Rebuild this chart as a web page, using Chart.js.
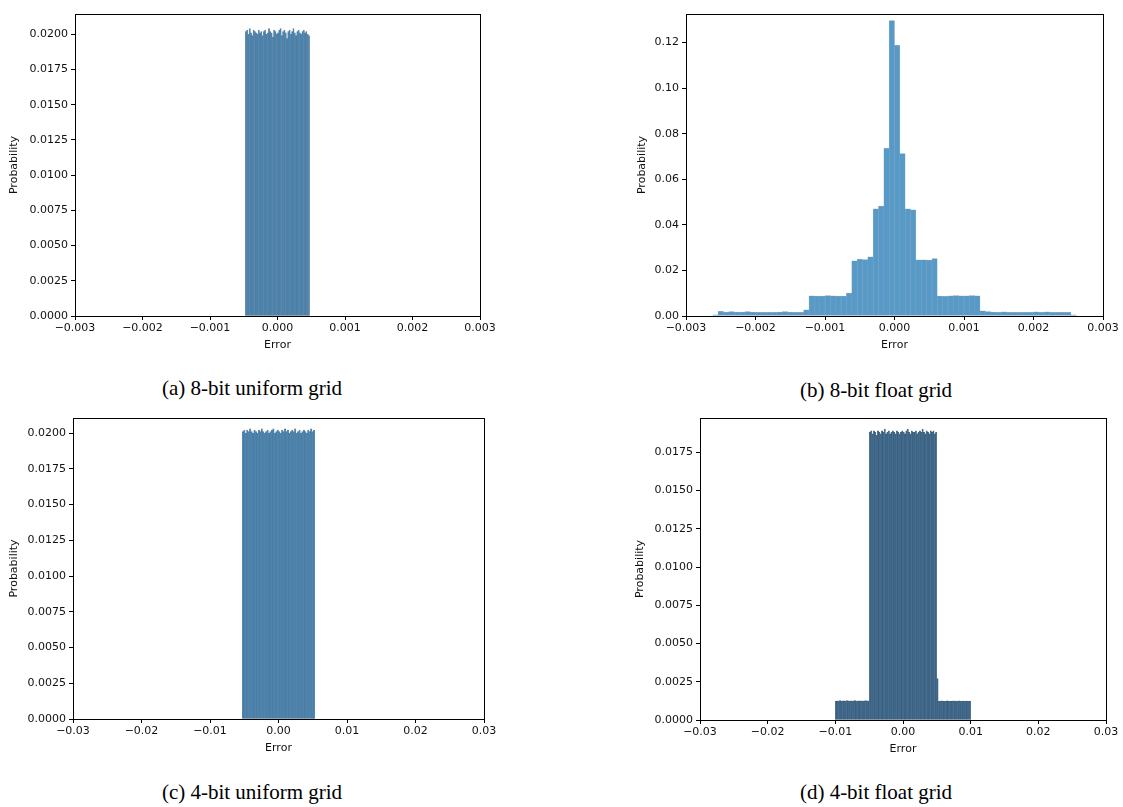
<!DOCTYPE html>
<html>
<head>
<meta charset="utf-8">
<script src="https://cdn.jsdelivr.net/npm/chart.js@4.4.0/dist/chart.umd.min.js"></script>
<style>
body { margin:0; background:#fff; width:1123px; height:807px; position:relative; overflow:hidden; }
.box { position:absolute; }
.cap { position:absolute; width:400px; text-align:center; font-family:'Liberation Serif','Times New Roman',serif; font-size:21px; line-height:24px; color:#000; }
</style>
</head>
<body>
<div class="box" style="left:0;top:4px;width:505px;height:352px"><canvas id="chartA"></canvas></div>
<div class="box" style="left:628px;top:4px;width:495px;height:352px"><canvas id="chartB"></canvas></div>
<div class="box" style="left:0;top:408px;width:508px;height:351px"><canvas id="chartC"></canvas></div>
<div class="box" style="left:626px;top:408px;width:497px;height:352px"><canvas id="chartD"></canvas></div>
<div class="cap" style="left:52px;top:376px">(a) 8-bit uniform grid</div>
<div class="cap" style="left:676px;top:378px">(b) 8-bit float grid</div>
<div class="cap" style="left:52px;top:780px">(c) 4-bit uniform grid</div>
<div class="cap" style="left:676px;top:780px">(d) 4-bit float grid</div>
<script>
// tick values
const xTicksSmall = [-0.003, -0.002, -0.001, 0, 0.001, 0.002, 0.003];
const xTicksLarge = [-0.03, -0.02, -0.01, 0, 0.01, 0.02, 0.03];
const yTicksUniform = [0, 0.0025, 0.005, 0.0075, 0.01, 0.0125, 0.015, 0.0175, 0.02];
const yTicksFloat8 = [0, 0.02, 0.04, 0.06, 0.08, 0.10, 0.12];
const yTicksFloat4 = [0, 0.0025, 0.005, 0.0075, 0.01, 0.0125, 0.015, 0.0175];

// (a) 8-bit uniform grid: 50 bins
const edgeA = -0.000478, widthA = 0.000953 / 50;
const probA = [0.0202,0.0203,0.0200,0.0204,0.0201,0.0199,0.0203,0.0202,0.0201,0.0200,
               0.0203,0.0201,0.0202,0.0199,0.0202,0.0203,0.0200,0.0201,0.0204,0.0202,
               0.0201,0.0198,0.0203,0.0202,0.0200,0.0201,0.0203,0.0204,0.0199,0.0202,
               0.0203,0.0201,0.0197,0.0202,0.0203,0.0200,0.0202,0.0204,0.0201,0.0199,
               0.0202,0.0203,0.0201,0.0200,0.0202,0.0203,0.0201,0.0202,0.0200,0.0199];

// (b) 8-bit float grid: 68 bins
const widthB = 0.001 / 13, edgeB = -34 * widthB;
const probB = [0.0005,0.0020,0.0017,0.0019,0.0017,0.0017,0.0019,0.0017,0.0016,0.0016,
               0.0016,0.0016,0.0017,0.0019,0.0017,0.0016,0.0016,0.0027,0.0089,0.0087,
               0.0087,0.0090,0.0088,0.0087,0.0087,0.0101,0.0242,0.0250,0.0247,0.0260,
               0.0470,0.0482,0.0736,0.1296,0.1187,0.0713,0.0470,0.0466,0.0246,0.0246,
               0.0245,0.0252,0.0087,0.0086,0.0089,0.0090,0.0089,0.0088,0.0090,0.0088,
               0.0023,0.0019,0.0017,0.0016,0.0018,0.0016,0.0016,0.0016,0.0016,0.0016,
               0.0018,0.0016,0.0018,0.0016,0.0016,0.0016,0.0016,0.0005];

// (c) 4-bit uniform grid: 50 bins
const edgeC = -0.0053, widthC = 0.0106 / 50;
const probC = [0.0201,0.0202,0.0200,0.0202,0.0201,0.0203,0.0201,0.0200,0.0202,0.0201,
               0.0200,0.0202,0.0201,0.0203,0.0201,0.0200,0.0201,0.0202,0.0200,0.0201,
               0.0202,0.0203,0.0200,0.0201,0.0202,0.0201,0.0200,0.0202,0.0201,0.0203,
               0.0201,0.0202,0.0200,0.0201,0.0202,0.0201,0.0203,0.0200,0.0201,0.0202,
               0.0200,0.0201,0.0202,0.0201,0.0200,0.0202,0.0201,0.0203,0.0201,0.0202];

// (d) 4-bit float grid: 100 bins
const edgeD = -0.01, widthD = 0.0002;
const probD = [0.00122,0.00126,0.00124,0.00127,0.00123,0.00125,0.00126,0.00124,0.00127,0.00125,
               0.00123,0.00126,0.00124,0.00125,0.00127,0.00124,0.00126,0.00123,0.00125,0.00126,
               0.00124,0.00125,0.00127,0.00124,0.00125,
               0.0188,0.0189,0.0187,0.0189,0.0188,0.0186,0.0189,0.0188,0.0187,0.0189,
               0.0188,0.0190,0.0187,0.0188,0.0189,0.0187,0.0188,0.0189,0.0188,0.0187,
               0.0189,0.0188,0.0187,0.0188,0.0189,0.0188,0.0187,0.0189,0.0190,0.0188,
               0.0187,0.0189,0.0188,0.0188,0.0189,0.0187,0.0188,0.0189,0.0188,0.0190,
               0.0188,0.0187,0.0189,0.0188,0.0187,0.0189,0.0188,0.0189,0.0187,0.0188,
               0.0027,
               0.00124,0.00122,0.00125,0.00123,0.00124,0.00122,0.00125,0.00123,0.00124,0.00122,
               0.00123,0.00125,0.00122,0.00124,0.00123,0.00125,0.00122,0.00124,0.00123,0.00122,
               0.00124,0.00123,0.00122,0.00124];

function bins(edge, width, probs) {
  return probs.map((p, i) => ({ x: edge + (i + 0.5) * width, y: p }));
}

function fmt(v, d) {
  if (Math.abs(v) < 1e-12) v = 0;
  return v.toFixed(d).replace('-', '\u2212');
}

const frame = {
  id: 'frame',
  afterDraw(chart) {
    const a = chart.chartArea, c = chart.ctx;
    c.save();
    c.strokeStyle = '#000';
    c.lineWidth = 1;
    c.strokeRect(Math.round(a.left) + 0.5, Math.round(a.top) + 0.5, Math.round(a.right - a.left), Math.round(a.bottom - a.top));
    c.restore();
  }
};

const tickFont = { family: 'DejaVu Sans', size: 11 };

function makeChart(id, o) {
  new Chart(document.getElementById(id), {
    type: 'bar',
    data: {
      datasets: [{
        data: o.data,
        backgroundColor: o.fill,
        borderColor: o.edge,
        borderWidth: o.edgeWidth,
        barPercentage: 1,
        categoryPercentage: 1,
        borderSkipped: false
      }]
    },
    options: {
      responsive: true,
      maintainAspectRatio: false,
      animation: false,
      layout: { padding: { top: 10, right: o.padRight, left: 0, bottom: 0 } },
      plugins: { legend: { display: false }, tooltip: { enabled: false } },
      scales: {
        x: {
          type: 'linear',
          offset: false,
          min: o.xTicks[0],
          max: o.xTicks[o.xTicks.length - 1],
          afterBuildTicks: s => { s.ticks = o.xTicks.map(v => ({ value: v })); },
          afterFit: s => { s.height = 40; },
          grid: { offset: false, drawOnChartArea: false, drawTicks: true, tickLength: 4, color: '#000' },
          border: { display: true, color: '#000' },
          ticks: { font: tickFont, color: '#111', padding: 2, maxRotation: 0, autoSkip: false,
                   callback: v => fmt(v, o.xDec) },
          title: { display: true, text: 'Error', font: tickFont, color: '#111', padding: { top: 0, bottom: 4 } }
        },
        y: {
          min: 0,
          max: o.yMax,
          afterBuildTicks: s => { s.ticks = o.yTicks.map(v => ({ value: v })); },
          afterFit: s => { s.width = o.yWidth; },
          grid: { offset: false, drawOnChartArea: false, drawTicks: true, tickLength: 4, color: '#000' },
          border: { display: true, color: '#000' },
          ticks: { font: tickFont, color: '#111', padding: 3, autoSkip: false,
                   callback: v => fmt(v, o.yDec) },
          title: { display: true, text: 'Probability', font: tickFont, color: '#111', padding: { top: 8, bottom: 0 } }
        }
      }
    },
    plugins: [frame]
  });
}

makeChart('chartA', {
  data: bins(edgeA, widthA, probA), xTicks: xTicksSmall, yTicks: yTicksUniform,
  yMax: 0.02144, xDec: 3, yDec: 4, yWidth: 75, padRight: 25,
  fill: '#4a86b3', edge: 'rgba(35,70,100,0.6)', edgeWidth: 0.4
});
makeChart('chartB', {
  data: bins(edgeB, widthB, probB), xTicks: xTicksSmall, yTicks: yTicksFloat8,
  yMax: 0.1325, xDec: 3, yDec: 2, yWidth: 58, padRight: 20,
  fill: 'rgb(87,153,199)', edge: 'rgba(50,100,140,0.45)', edgeWidth: 0.5
});
makeChart('chartC', {
  data: bins(edgeC, widthC, probC), xTicks: xTicksLarge, yTicks: yTicksUniform,
  yMax: 0.02105, xDec: 2, yDec: 4, yWidth: 73, padRight: 24,
  fill: '#4a86b3', edge: 'rgba(35,70,100,0.6)', edgeWidth: 0.4
});
makeChart('chartD', {
  data: bins(edgeD, widthD, probD), xTicks: xTicksLarge, yTicks: yTicksFloat4,
  yMax: 0.01974, xDec: 2, yDec: 4, yWidth: 74, padRight: 17,
  fill: '#34668f', edge: 'rgba(20,45,70,0.7)', edgeWidth: 0.5
});
</script>
</body>
</html>
